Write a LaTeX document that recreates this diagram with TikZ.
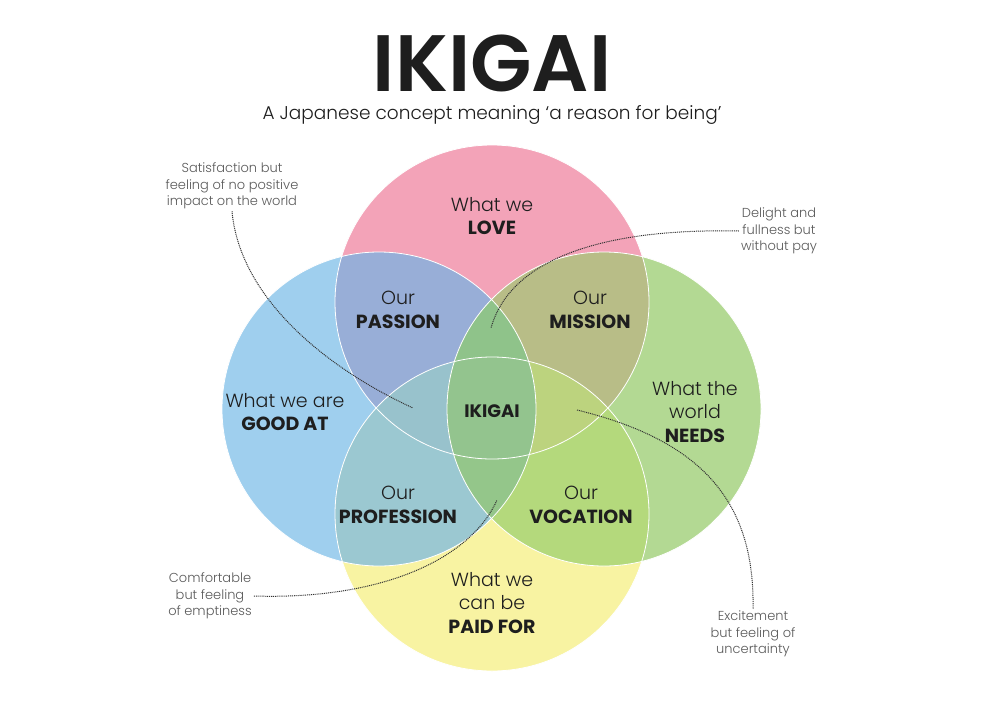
\documentclass[tikz,border=0pt]{standalone}
\usepackage{fontspec}
\setmainfont{Poppins}[UprightFont=* Light, BoldFont=* Bold]
\newfontfamily\titlefont{Poppins}[UprightFont=* SemiBold]
\usetikzlibrary{positioning}
\definecolor{lovepink}{HTML}{F3A3B8}
\definecolor{goodblue}{HTML}{9FCFEE}
\definecolor{needgreen}{HTML}{B3D993}
\definecolor{paidyellow}{HTML}{F8F3A2}
\definecolor{passioncol}{HTML}{98AED7}
\definecolor{missioncol}{HTML}{B8BD87}
\definecolor{professioncol}{HTML}{9BC8D1}
\definecolor{vocationcol}{HTML}{B4D97C}
\definecolor{leftcol}{HTML}{98C2CC}
\definecolor{rightcol}{HTML}{BCD37E}
\definecolor{topcol}{HTML}{8FC38A}
\definecolor{bottomcol}{HTML}{94C68A}
\definecolor{centercol}{HTML}{93C48E}
\definecolor{labelink}{HTML}{1E1E1E}
\definecolor{notegray}{HTML}{5A5A5A}
\definecolor{dotgray}{HTML}{333333}
\tikzset{area/.style = {font=\fontsize{19}{23.5}\selectfont, align=center, text=labelink}}
\tikzset{note/.style = {font=\fontsize{13}{16.5}\selectfont, align=center, text=notegray, inner sep=2pt}}
\tikzset{dotline/.style = {draw=dotgray, line width=1pt, dash pattern=on 1pt off 0.9pt}}
\tikzset{rim/.style = {draw=white, line width=0.8pt}}

\begin{document}
\begin{tikzpicture}[x=1pt, y=-1pt]
    \useasboundingbox (0,0) rectangle (990,715);
    \fill[white] (0,0) rectangle (990,715);

    \coordinate (pc) at (492,302);
    \coordinate (bc) at (379,409);
    \coordinate (gc) at (604,409);
    \coordinate (yc) at (492,514);

    % the four circles
    \fill[lovepink] (pc) circle[radius=157pt];
    \fill[goodblue] (bc) circle[radius=157pt];
    \fill[needgreen] (gc) circle[radius=157pt];
    \fill[paidyellow] (yc) circle[radius=157pt];

    % overlaps of two
    \begin{scope}
      \clip (pc) circle[radius=157pt];
      \fill[passioncol] (bc) circle[radius=157pt];
      \fill[missioncol] (gc) circle[radius=157pt];
    \end{scope}
    \begin{scope}
      \clip (yc) circle[radius=157pt];
      \fill[professioncol] (bc) circle[radius=157pt];
      \fill[vocationcol] (gc) circle[radius=157pt];
    \end{scope}

    % overlaps of three
    \begin{scope}
      \clip (pc) circle[radius=157pt];
      \clip (yc) circle[radius=157pt];
      \fill[leftcol] (bc) circle[radius=157pt];
      \fill[rightcol] (gc) circle[radius=157pt];
    \end{scope}
    \begin{scope}
      \clip (bc) circle[radius=157pt];
      \clip (gc) circle[radius=157pt];
      \fill[topcol] (pc) circle[radius=157pt];
      \fill[bottomcol] (yc) circle[radius=157pt];
    \end{scope}
    \begin{scope}
      \clip (pc) circle[radius=157pt];
      \clip (yc) circle[radius=157pt];
      \clip (bc) circle[radius=157pt];
      \fill[centercol] (gc) circle[radius=157pt];
    \end{scope}

    \draw[rim] (pc) circle[radius=157pt];
    \draw[rim] (bc) circle[radius=157pt];
    \draw[rim] (gc) circle[radius=157pt];
    \draw[rim] (yc) circle[radius=157pt];

    % title
    \node[text=labelink, inner sep=0pt, text height=56pt, text depth=0pt,
          font=\titlefont\fontsize{80}{80}\selectfont] (title) at (492,63) {IKIGAI};
    \node[text=labelink, inner sep=0pt, text height=14pt, text depth=4pt,
          font=\fontsize{18.5}{21}\selectfont] (subtitle) at (492,114)
      {A Japanese concept meaning ‘a reason for being’};

    % areas
    \node[area] (love) at (492,216) {What we\\\bfseries LOVE};
    \node[area] (passion) at (398,310) {Our\\\bfseries PASSION};
    \node[area] (mission) at (590,310) {Our\\\bfseries MISSION};
    \node[area] (goodat) at (285,412) {What we are\\\bfseries GOOD AT};
    \node[area, font=\bfseries\fontsize{18}{20}\selectfont] (ikigai) at (492,411) {IKIGAI};
    \node[area] (needs) at (695,412) {What the\\world\\\bfseries NEEDS};
    \node[area] (profession) at (398,505) {Our\\\bfseries PROFESSION};
    \node[area] (vocation) at (581,505) {Our\\\bfseries VOCATION};
    \node[area] (paidfor) at (492,603) {What we\\can be\\\bfseries PAID FOR};

    % notes
    \node[note] (satisfied) at (232,186) {Satisfaction but\\feeling of no positive\\impact on the world};
    \node[note] (delight) at (779,231) {Delight and\\fullness but\\without pay};
    \node[note] (comfort) at (210,596) {Comfortable\\but feeling\\of emptiness};
    \node[note] (excite) at (753,634) {Excitement\\but feeling of\\uncertainty};

    \coordinate (satend) at (413,408);
    \coordinate (delend) at (491,328);
    \coordinate (comend) at (497,500);
    \coordinate (excstart) at (577,410);

    \draw[dotline] (satisfied.south) .. controls (240,300) and (330,370) .. (satend);
    \draw[dotline] (delight.west) .. controls (600,228) and (510,260) .. (delend);
    \draw[dotline] (comfort.east) .. controls (380,600) and (470,560) .. (comend);
    \draw[dotline] (excstart) .. controls (700,440) and (755,500) .. (excite.north);
\end{tikzpicture}
\end{document}
